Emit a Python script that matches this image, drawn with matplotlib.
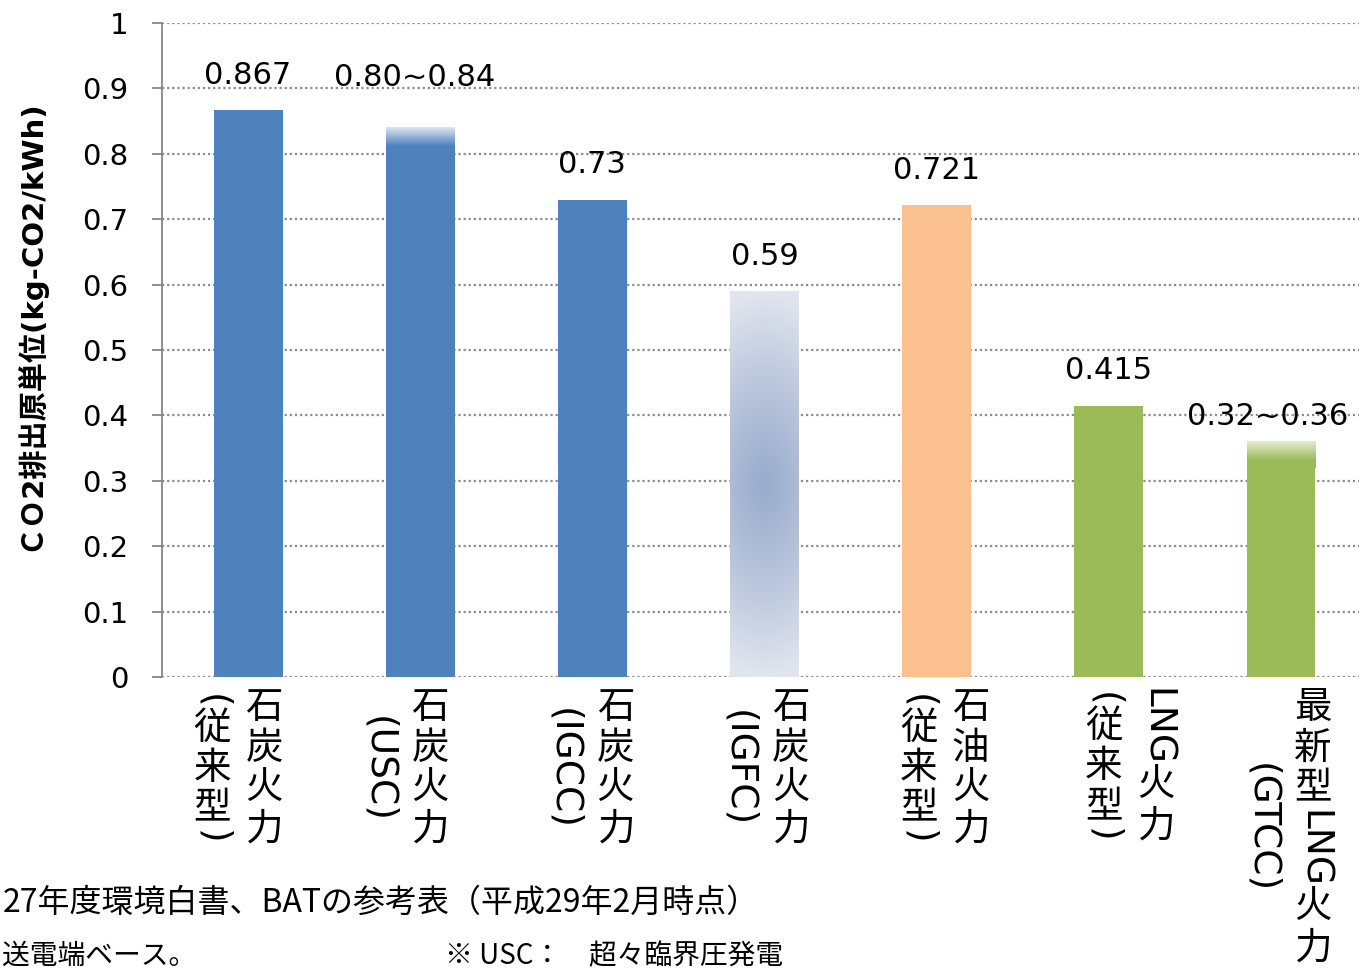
import numpy as np
import matplotlib
matplotlib.use('Agg')
import matplotlib.pyplot as plt
from matplotlib.colors import LinearSegmentedColormap, to_rgb

plt.rcParams['font.family'] = ['DejaVu Sans', 'Noto Sans CJK JP']

W, H = 1359, 974

# データ
cat_main = ['石炭火力', '石炭火力', '石炭火力', '石炭火力', '石油火力', 'LNG火力', '最新型LNG火力']
cat_sub = ['(従来型)', '(USC)', '(IGCC)', '(IGFC)', '(従来型)', '(従来型)', '(GTCC)']
values = [0.867, 0.80, 0.73, 0.59, 0.721, 0.415, 0.32]
range_top = [None, 0.84, None, None, None, None, 0.36]
value_text = ['0.867', '0.80~0.84', '0.73', '0.59', '0.721', '0.415', '0.32~0.36']
y_ticks = [0, 0.1, 0.2, 0.3, 0.4, 0.5, 0.6, 0.7, 0.8, 0.9, 1.0]
y_tick_text = ['0', '0.1', '0.2', '0.3', '0.4', '0.5', '0.6', '0.7', '0.8', '0.9', '1']

# 見た目
bar_style = ['blue', 'blue_fade', 'blue', 'radial', 'orange', 'green', 'green_fade']
BLUE, ORANGE, GREEN = '#4F81BD', '#FAC090', '#9BBB59'
BAR_W = 0.4
label_dy = [0.053, 0.076, 0.053, 0.053, 0.053, 0.053, 0.038]
label_dx_px = [0, -6, 0, 0, 0, 0, -13]
label_shift_px = [-10, -16, -3, 0, 8, 21, 6]

fig = plt.figure(figsize=(W / 100, H / 100), dpi=100)
ax = fig.add_axes([162 / W, 1 - 677 / H, (1367 - 162) / W, 654 / H])

x = np.arange(len(values))


def grad_img(ax, x0, x1, y0, y1, c_bot, c_top, zorder=2):
    cmap = LinearSegmentedColormap.from_list('g', [(0, c_bot), (0.3, c_bot), (1, c_top)])
    g = np.linspace(0, 1, 200).reshape(-1, 1)
    ax.imshow(g, cmap=cmap, extent=(x0, x1, y0, y1), origin='lower',
              aspect='auto', zorder=zorder, interpolation='bilinear')


for i, v in enumerate(values):
    st = bar_style[i]
    x0, x1 = x[i] - BAR_W / 2, x[i] + BAR_W / 2
    if st in ('blue', 'blue_fade'):
        ax.bar(x[i], v, width=BAR_W, color=BLUE, zorder=2)
    elif st == 'orange':
        ax.bar(x[i], v, width=BAR_W, color=ORANGE, zorder=2)
    elif st in ('green', 'green_fade'):
        ax.bar(x[i], v, width=BAR_W, color=GREEN, zorder=2)
    if st == 'blue_fade':
        grad_img(ax, x0, x1, v, range_top[i], BLUE, '#DDE6F5')
    elif st == 'green_fade':
        grad_img(ax, x0, x1, v, range_top[i], GREEN, '#E4ECD3')
    elif st == 'radial':
        yy, xx = np.mgrid[0:1:300j, -1:1:60j]
        r = np.sqrt(((yy - 0.5) / 0.5) ** 2 + (xx / 3.0) ** 2)
        r = np.clip(r, 0, 1) ** 1.2
        c0 = np.array(to_rgb('#9AACCD'))
        c1 = np.array(to_rgb('#E1E5EE'))
        img = c0 + (c1 - c0) * r[..., None]
        ax.imshow(img, extent=(x0, x1, 0, v), origin='lower', aspect='auto',
                  zorder=2, interpolation='bilinear')

# 値ラベル
for i, v in enumerate(values):
    top = range_top[i] if range_top[i] is not None else v
    ax.annotate(value_text[i], xy=(x[i], top + label_dy[i]),
                xytext=(label_dx_px[i] * 0.72, 0), textcoords='offset points',
                ha='center', va='center', fontsize=22, color='black')

ax.set_xlim(-0.5, len(values) - 0.5)
ax.set_ylim(0, 1)
ax.set_yticks(y_ticks)
ax.set_yticklabels(y_tick_text)
ax.set_xticks([])
ax.yaxis.grid(True, color='#8C8C8C', linestyle=(0, (1, 1.3)), linewidth=1.6)
ax.set_axisbelow(True)
for s in ['top', 'right', 'bottom']:
    ax.spines[s].set_visible(False)
ax.spines['left'].set_color('#868686')
ax.spines['left'].set_linewidth(1.3)
ax.tick_params(axis='y', direction='out', length=7, width=1.3, color='#868686',
               pad=17, labelsize=21, labelcolor='black')

# 縦軸タイトル
fig.text(29 / W, 1 - 325 / H, 'ＣＯ2排出原単位(kg-CO2/kWh)', rotation=90,
         ha='center', va='center', fontsize=21, fontweight='bold')

# 縦書きカテゴリラベル
fig.canvas.draw()
renderer = fig.canvas.get_renderer()
CHAR_STEP = 40.5
LABEL_TOP = 688
COL_GAP = 52
LABEL_FS = 27


def column_parts(s):
    parts, buf = [], ''
    for ch in s:
        if ord(ch) < 128:
            buf += ch
        else:
            if buf:
                parts.append((buf, True))
                buf = ''
            parts.append((ch, False))
    if buf:
        parts.append((buf, True))
    return parts


def make_column(s):
    items = []
    for txt, rot in column_parts(s):
        t = fig.text(0, 0, txt, fontsize=LABEL_FS, rotation=270 if rot else 0,
                     ha='center', va='center', color='black')
        if rot:
            length = t.get_window_extent(renderer).height
        else:
            length = CHAR_STEP
        items.append((t, length))
    return items, sum(l for _, l in items)


def place_column(items, total, cx, cy):
    y = cy - total / 2
    for t, l in items:
        t.set_position((cx / W, 1 - (y + l / 2) / H))
        y += l


for i in range(len(values)):
    px = ax.transData.transform((x[i], 0))[0] + label_shift_px[i]
    main_items, main_len = make_column(cat_main[i])
    sub_items, sub_len = make_column(cat_sub[i])
    cy = LABEL_TOP + max(main_len, sub_len) / 2
    place_column(main_items, main_len, px + COL_GAP / 2, cy)
    place_column(sub_items, sub_len, px - COL_GAP / 2, cy)

# 注記
fig.text(3 / W, 1 - 903 / H, '27年度環境白書、BATの参考表（平成29年2月時点）',
         ha='left', va='center', fontsize=23, family=['Noto Sans CJK JP'])
fig.text(2 / W, 1 - 971 / H, '送電端ベース。', ha='left', va='bottom',
         fontsize=20, family=['Noto Sans CJK JP'])
fig.text(445 / W, 1 - 971 / H, '※ USC：　超々臨界圧発電', ha='left', va='bottom',
         fontsize=20, family=['Noto Sans CJK JP'])

fig.savefig('out.png', dpi=100)
